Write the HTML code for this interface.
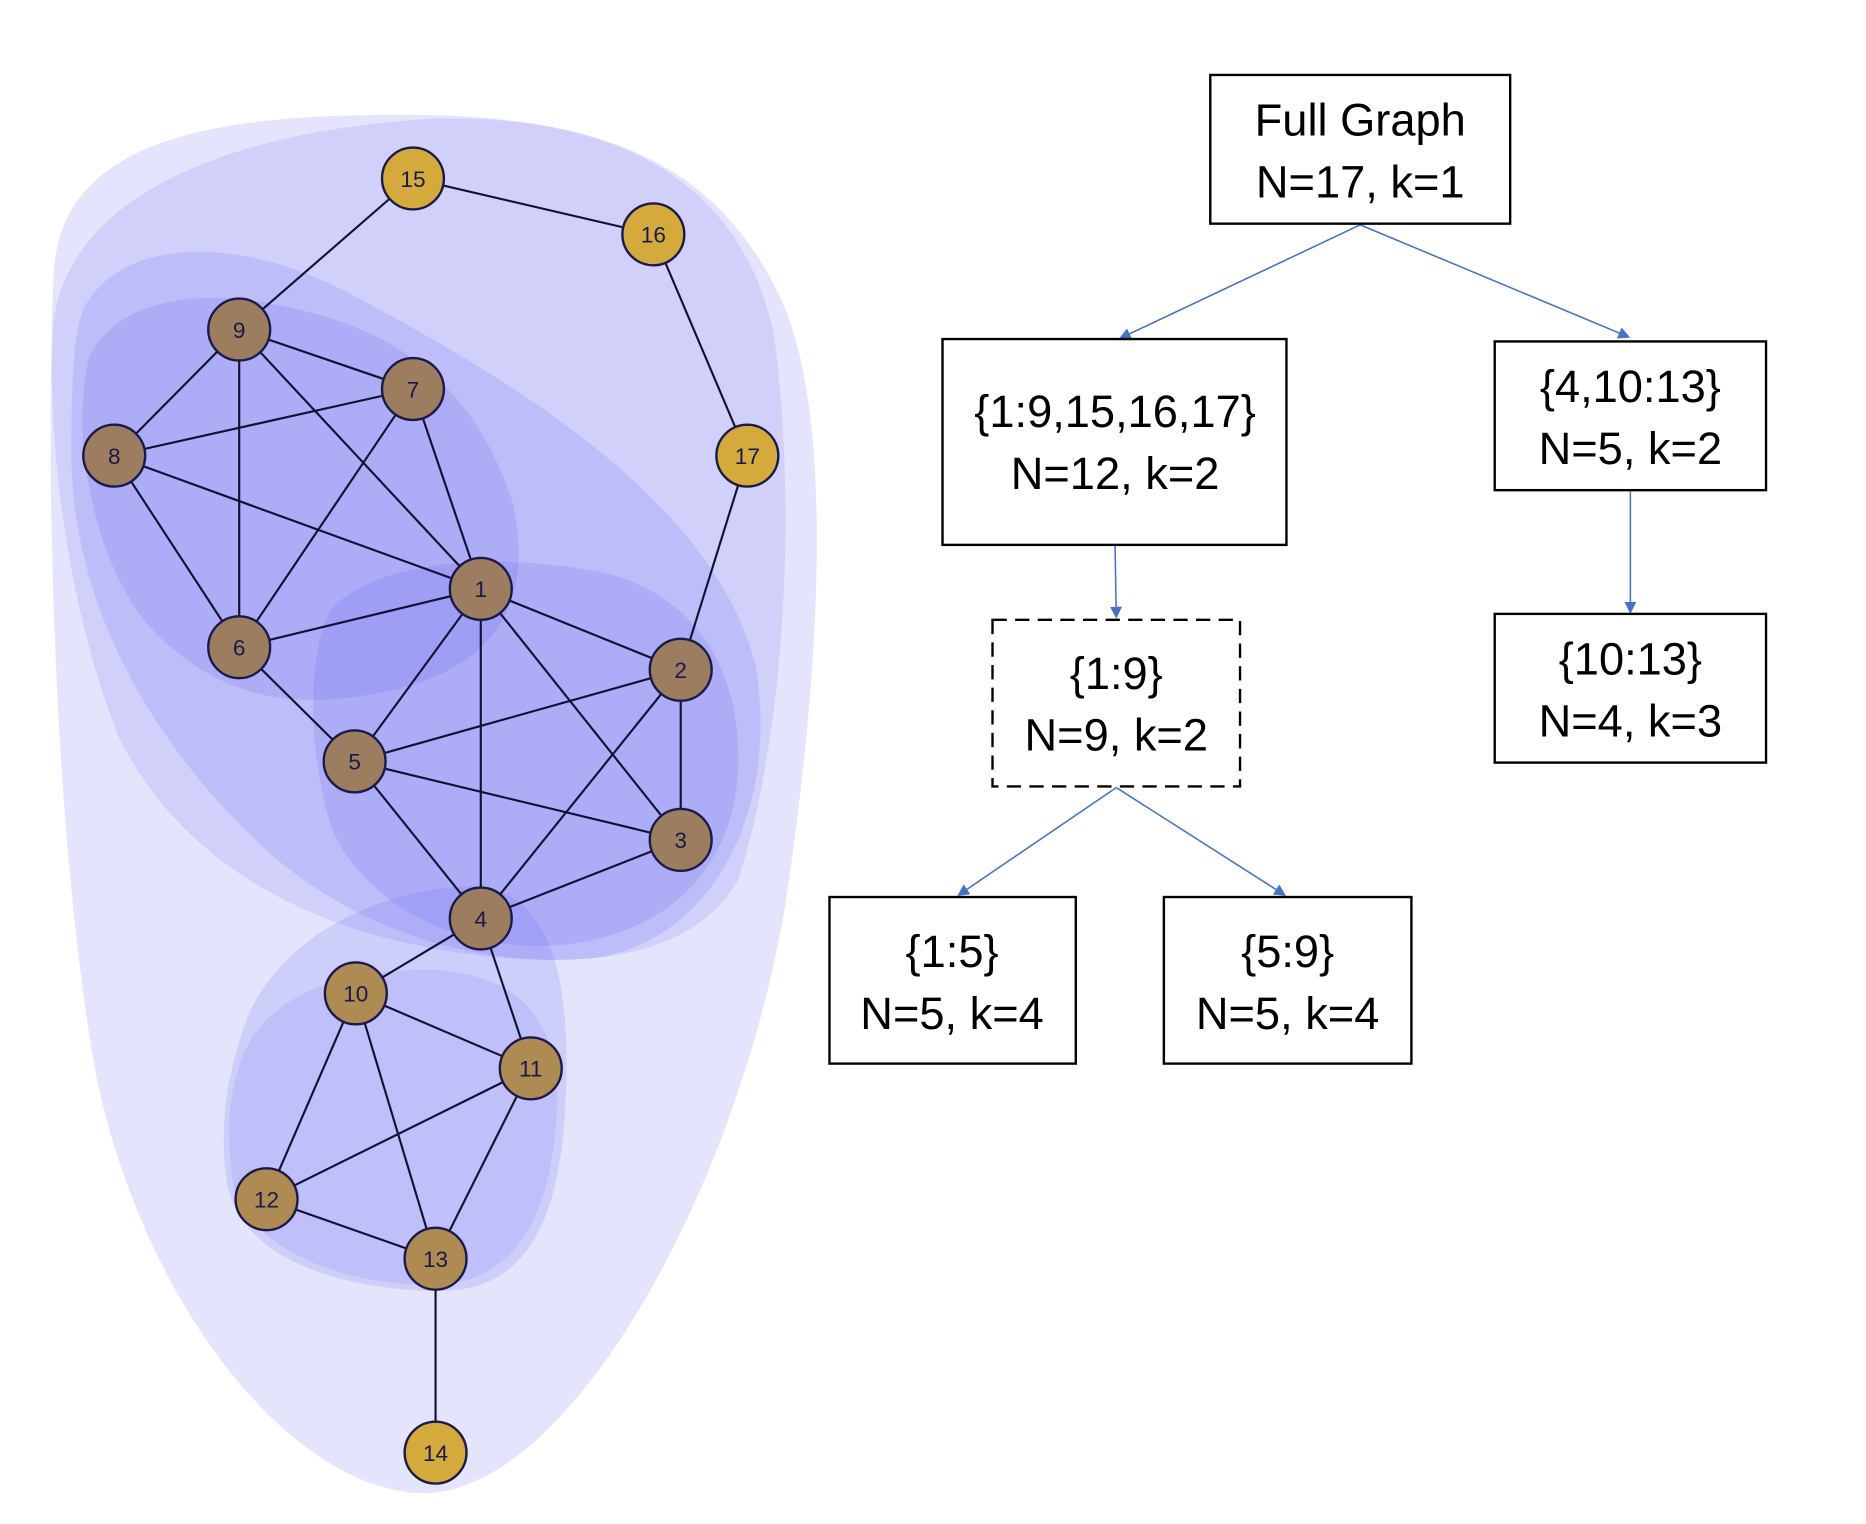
<!DOCTYPE html>
<html><head><meta charset="utf-8"><style>
html,body{margin:0;padding:0;background:#fff;width:1866px;height:1524px;overflow:hidden}
svg text{font-family:"Liberation Sans",sans-serif}
</style></head><body>
<svg width="1866" height="1524" viewBox="0 0 1568 1281" preserveAspectRatio="none" xmlns="http://www.w3.org/2000/svg">
<defs>
<marker id="ar" markerWidth="10" markerHeight="10" refX="8" refY="5" orient="auto" markerUnits="userSpaceOnUse"><path d="M0,0 L10,5 L0,10 z" fill="#4472c4"/></marker>
</defs>
<g fill="#6b6bf2">
<path fill-opacity="0.18" d="M45,230 C50,140 130,100 300,97 C480,92 600,120 660,260 C700,360 690,560 660,760 C620,1000 480,1250 360,1255 C250,1258 120,1100 80,900 C45,700 38,400 45,230 Z"/>
<path fill-opacity="0.16" d="M45,270 C60,160 200,110 360,100 C500,95 620,140 650,280 C670,420 660,620 620,740 C580,810 480,815 380,800 C250,780 150,720 100,620 C60,520 38,380 45,270 Z"/>
<path fill-opacity="0.18" d="M70,260 C100,200 200,195 300,250 C430,320 600,420 635,560 C655,680 600,790 500,805 C400,815 300,780 230,720 C140,640 60,520 60,380 C60,320 62,280 70,260 Z"/>
<path fill-opacity="0.2" d="M75,300 C100,250 170,240 250,260 C340,280 400,330 430,420 C450,500 420,560 330,580 C250,598 180,590 120,520 C75,460 60,360 75,300 Z"/>
<path fill-opacity="0.2" d="M280,510 C320,470 420,465 500,480 C580,495 625,560 620,650 C615,730 560,790 460,795 C380,798 310,760 280,700 C260,640 255,550 280,510 Z"/>
<path fill-opacity="0.18" d="M200,880 C220,790 320,745 400,745 C470,750 480,840 475,930 C470,1030 440,1085 370,1085 C290,1085 200,1060 190,990 C185,950 190,910 200,880 Z"/>
<path fill-opacity="0.15" d="M200,900 C215,840 280,815 360,815 C440,818 470,860 468,930 C465,1010 440,1075 370,1080 C290,1082 205,1050 195,990 C190,950 193,920 200,900 Z"/>
</g>
<g stroke="#111133" stroke-width="1.8">
<line x1="347" y1="150" x2="549" y2="197"/><line x1="347" y1="150" x2="201" y2="277"/><line x1="549" y1="197" x2="628" y2="383"/><line x1="628" y1="383" x2="572" y2="563"/>
<line x1="201" y1="277" x2="347" y2="327"/><line x1="201" y1="277" x2="96" y2="383"/><line x1="201" y1="277" x2="201" y2="544"/><line x1="201" y1="277" x2="404" y2="495"/>
<line x1="347" y1="327" x2="96" y2="383"/><line x1="347" y1="327" x2="201" y2="544"/><line x1="347" y1="327" x2="404" y2="495"/>
<line x1="96" y1="383" x2="201" y2="544"/><line x1="96" y1="383" x2="404" y2="495"/>
<line x1="201" y1="544" x2="404" y2="495"/><line x1="201" y1="544" x2="298" y2="640"/>
<line x1="404" y1="495" x2="572" y2="563"/><line x1="404" y1="495" x2="298" y2="640"/><line x1="404" y1="495" x2="404" y2="772"/><line x1="404" y1="495" x2="572" y2="706"/>
<line x1="572" y1="563" x2="298" y2="640"/><line x1="572" y1="563" x2="572" y2="706"/><line x1="572" y1="563" x2="404" y2="772"/>
<line x1="298" y1="640" x2="572" y2="706"/><line x1="298" y1="640" x2="404" y2="772"/><line x1="572" y1="706" x2="404" y2="772"/>
<line x1="404" y1="772" x2="299" y2="835"/><line x1="404" y1="772" x2="446" y2="898"/>
<line x1="299" y1="835" x2="446" y2="898"/><line x1="299" y1="835" x2="224" y2="1008"/><line x1="299" y1="835" x2="366" y2="1058"/>
<line x1="446" y1="898" x2="224" y2="1008"/><line x1="446" y1="898" x2="366" y2="1058"/><line x1="224" y1="1008" x2="366" y2="1058"/><line x1="366" y1="1058" x2="366" y2="1221"/>
</g>
<g stroke="#1a1a4a" stroke-width="2">
<g fill="#d4aa3c">
<circle cx="347" cy="150" r="26"/><circle cx="549" cy="197" r="26"/><circle cx="628" cy="383" r="26"/><circle cx="366" cy="1221" r="26"/>
</g>
<g fill="#9c7d5f">
<circle cx="201" cy="277" r="26"/><circle cx="347" cy="327" r="26"/><circle cx="96" cy="383" r="26"/><circle cx="201" cy="544" r="26"/><circle cx="404" cy="495" r="26"/><circle cx="572" cy="563" r="26"/><circle cx="298" cy="640" r="26"/><circle cx="572" cy="706" r="26"/><circle cx="404" cy="772" r="26"/>
</g>
<g fill="#ad8b52">
<circle cx="299" cy="835" r="26"/><circle cx="446" cy="898" r="26"/><circle cx="224" cy="1008" r="26"/><circle cx="366" cy="1058" r="26"/>
</g>
</g>
<g font-size="19" fill="#1a1a4a" text-anchor="middle">
<text x="347" y="157">15</text><text x="549" y="204">16</text><text x="628" y="390">17</text><text x="366" y="1228">14</text>
<text x="201" y="284">9</text><text x="347" y="334">7</text><text x="96" y="390">8</text><text x="201" y="551">6</text><text x="404" y="502">1</text><text x="572" y="570">2</text><text x="298" y="647">5</text><text x="572" y="713">3</text><text x="404" y="779">4</text>
<text x="299" y="842">10</text><text x="446" y="905">11</text><text x="224" y="1015">12</text><text x="366" y="1065">13</text>
</g>
<g stroke="#4472c4" stroke-width="1.3" fill="none">
<line x1="1143" y1="189" x2="942" y2="284" marker-end="url(#ar)"/>
<line x1="1143" y1="189" x2="1368" y2="283" marker-end="url(#ar)"/>
<line x1="937" y1="459" x2="938" y2="518" marker-end="url(#ar)"/>
<line x1="1370" y1="413" x2="1370" y2="514" marker-end="url(#ar)"/>
<line x1="938" y1="662" x2="806" y2="752" marker-end="url(#ar)"/>
<line x1="938" y1="662" x2="1079" y2="752" marker-end="url(#ar)"/>
</g>
<g stroke="#000" stroke-width="2" fill="#fff">
<rect x="1017" y="63" width="252" height="125"/>
<rect x="792" y="285" width="289" height="173"/>
<rect x="1256" y="287" width="228" height="125"/>
<rect x="834" y="521" width="208" height="140" stroke-dasharray="12,7"/>
<rect x="1256" y="516" width="228" height="125"/>
<rect x="697" y="754" width="207" height="140"/>
<rect x="978" y="754" width="208" height="140"/>
</g>
<g font-size="38" fill="#000" text-anchor="middle">
<text x="1143" y="114">Full Graph</text><text x="1143" y="166">N=17, k=1</text>
<text x="937" y="359">{1:9,15,16,17}</text><text x="937" y="411">N=12, k=2</text>
<text x="1370" y="338">{4,10:13}</text><text x="1370" y="390">N=5, k=2</text>
<text x="938" y="579">{1:9}</text><text x="938" y="631">N=9, k=2</text>
<text x="1370" y="567">{10:13}</text><text x="1370" y="619">N=4, k=3</text>
<text x="800" y="813">{1:5}</text><text x="800" y="865">N=5, k=4</text>
<text x="1082" y="813">{5:9}</text><text x="1082" y="865">N=5, k=4</text>
</g>
</svg>
</body></html>
